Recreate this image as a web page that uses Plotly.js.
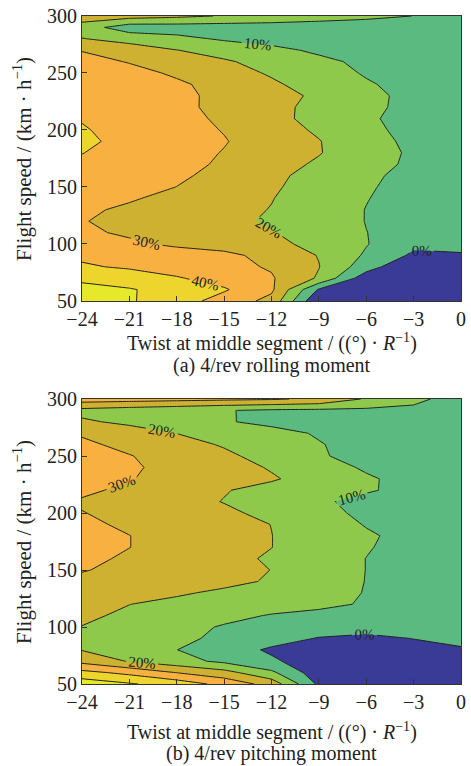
<!DOCTYPE html>
<html>
<head>
<meta charset="utf-8">
<script src="https://cdn.plot.ly/plotly-3.0.1.min.js"></script>
<style>html,body{margin:0;padding:0;background:#fff;}#chart{width:471px;height:766px;}</style>
</head>
<body>
<div id="chart"></div>
<script>
// Twist at middle segment, deg/R
var twist = [-24, -21, -18, -15, -12, -9, -6, -3, 0];
// Flight speed, km/h
var speed = [50, 60, 70, 80, 90, 100, 110, 120, 130, 140, 150, 160, 170, 180, 190, 200, 210, 220, 230, 240, 250, 260, 270, 280, 290, 300];
var tickX = [-24, -21, -18, -15, -12, -9, -6, -3, 0];
var tickXText = ['\u221224', '\u221221', '\u221218', '\u221215', '\u221212', '\u22129', '\u22126', '\u22123', '0'];
var tickY = [50, 100, 150, 200, 250, 300];
var levels = [0, 0.1, 0.2, 0.3, 0.4, 0.5];

// (a) 4/rev rolling moment, reduction ratio (rows follow speed, columns follow twist)
var zRoll = [
  [0.55, 0.51, 0.444, 0.361, 0.27, -0.1, -0.12, -0.12, -0.1],
  [0.53, 0.508, 0.459, 0.41, 0.317, -0.01, -0.08, -0.12, -0.1],
  [0.48, 0.444, 0.408, 0.36, 0.309, 0.188, -0.06, -0.12, -0.1],
  [0.41, 0.389, 0.358, 0.328, 0.291, 0.203, 0.048, -0.1, -0.08],
  [0.385, 0.36, 0.345, 0.328, 0.263, 0.196, 0.087, -0.017, -0.005],
  [0.346, 0.315, 0.283, 0.252, 0.221, 0.176, 0.105, 0.02, 0.015],
  [0.315, 0.287, 0.26, 0.233, 0.205, 0.156, 0.101, 0.068, 0.055],
  [0.304, 0.276, 0.249, 0.221, 0.189, 0.143, 0.098, 0.065, 0.055],
  [0.315, 0.285, 0.256, 0.227, 0.197, 0.147, 0.098, 0.065, 0.055],
  [0.345, 0.309, 0.274, 0.239, 0.203, 0.154, 0.103, 0.066, 0.055],
  [0.37, 0.343, 0.299, 0.255, 0.212, 0.161, 0.109, 0.07, 0.06],
  [0.38, 0.366, 0.317, 0.269, 0.22, 0.169, 0.116, 0.075, 0.06],
  [0.385, 0.365, 0.333, 0.285, 0.237, 0.187, 0.132, 0.084, 0.065],
  [0.402, 0.367, 0.332, 0.296, 0.25, 0.205, 0.141, 0.086, 0.065],
  [0.415, 0.378, 0.341, 0.305, 0.255, 0.204, 0.133, 0.08, 0.06],
  [0.407, 0.37, 0.333, 0.296, 0.242, 0.187, 0.12, 0.075, 0.06],
  [0.395, 0.37, 0.337, 0.281, 0.227, 0.171, 0.112, 0.071, 0.06],
  [0.385, 0.37, 0.323, 0.274, 0.226, 0.174, 0.119, 0.077, 0.06],
  [0.38, 0.366, 0.321, 0.277, 0.233, 0.184, 0.122, 0.077, 0.06],
  [0.38, 0.365, 0.316, 0.265, 0.214, 0.161, 0.109, 0.07, 0.06],
  [0.36, 0.332, 0.285, 0.238, 0.19, 0.139, 0.092, 0.07, 0.06],
  [0.336, 0.294, 0.253, 0.211, 0.166, 0.119, 0.082, 0.065, 0.055],
  [0.295, 0.249, 0.202, 0.162, 0.121, 0.086, 0.07, 0.06, 0.055],
  [0.204, 0.165, 0.126, 0.088, 0.07, 0.06, 0.055, 0.05, 0.05],
  [0.15, 0.045, 0.05, 0.05, 0.05, 0.045, 0.045, 0.05, 0.05],
  [0.26, 0.24, 0.22, 0.194, 0.171, 0.147, 0.123, 0.099, 0.08]
];

// (b) 4/rev pitching moment, reduction ratio
var zPitch = [
  [0.56, 0.51, 0.456, 0.369, 0.26, -0.02, -0.1, -0.08, -0.06],
  [0.43, 0.374, 0.298, 0.236, 0.12, -0.06, -0.1, -0.08, -0.06],
  [0.27, 0.193, 0.137, 0.0785, 0.014, -0.05, -0.07, -0.06, -0.04],
  [0.195, 0.148, 0.101, 0.043, -0.013, -0.04, -0.045, -0.03, -0.008],
  [0.19, 0.16, 0.125, 0.076, 0.036, -0.005, -0.02, 0.002, 0.02],
  [0.198, 0.165, 0.13, 0.092, 0.07, 0.045, 0.035, 0.03, 0.025],
  [0.215, 0.185, 0.155, 0.125, 0.094, 0.08, 0.07, 0.06, 0.055],
  [0.23, 0.201, 0.18, 0.159, 0.138, 0.117, 0.093, 0.065, 0.058],
  [0.26, 0.235, 0.21, 0.186, 0.157, 0.127, 0.097, 0.066, 0.06],
  [0.28, 0.26, 0.24, 0.22, 0.192, 0.145, 0.098, 0.066, 0.06],
  [0.305, 0.278, 0.252, 0.226, 0.199, 0.149, 0.099, 0.066, 0.06],
  [0.32, 0.288, 0.256, 0.224, 0.19, 0.145, 0.099, 0.068, 0.06],
  [0.33, 0.301, 0.267, 0.234, 0.201, 0.154, 0.106, 0.069, 0.06],
  [0.33, 0.301, 0.267, 0.234, 0.201, 0.156, 0.111, 0.073, 0.06],
  [0.316, 0.287, 0.258, 0.229, 0.199, 0.146, 0.095, 0.07, 0.06],
  [0.303, 0.274, 0.245, 0.216, 0.178, 0.126, 0.082, 0.068, 0.06],
  [0.29, 0.26, 0.23, 0.197, 0.155, 0.113, 0.075, 0.065, 0.06],
  [0.318, 0.28, 0.243, 0.205, 0.172, 0.141, 0.109, 0.074, 0.06],
  [0.335, 0.304, 0.272, 0.241, 0.209, 0.163, 0.111, 0.071, 0.06],
  [0.34, 0.312, 0.273, 0.234, 0.193, 0.138, 0.089, 0.065, 0.055],
  [0.33, 0.304, 0.261, 0.218, 0.166, 0.109, 0.07, 0.06, 0.055],
  [0.318, 0.276, 0.234, 0.192, 0.148, 0.105, 0.068, 0.06, 0.055],
  [0.29, 0.246, 0.199, 0.163, 0.127, 0.092, 0.075, 0.065, 0.06],
  [0.215, 0.179, 0.143, 0.107, 0.08, 0.07, 0.065, 0.06, 0.06],
  [0.17, 0.15, 0.13, 0.105, 0.085, 0.08, 0.08, 0.08, 0.07],
  [0.35, 0.34, 0.33, 0.32, 0.31, 0.283, 0.189, 0.122, 0.06]
];

var bandColors = ['#3a3b96', '#5bba80', '#8fc94c', '#cfb132', '#f8b141', '#eed52e', '#e6e82a'];

function stepScale(cols) {
  var n = cols.length - 1, s = [];
  for (var i = 0; i < cols.length; i++) {
    var lo = i === 0 ? 0 : (i - 0.5) / n;
    var hi = i === n ? 1 : (i + 0.5) / n;
    s.push([lo, cols[i]]);
    s.push([hi, cols[i]]);
  }
  return s;
}

var font = 'Liberation Serif, Times New Roman, serif';

function contourTrace(z, xa, ya) {
  return {
    type: 'contour', x: twist, y: speed, z: z, xaxis: xa, yaxis: ya,
    autocontour: false,
    contours: {
      start: levels[0], end: levels[levels.length - 1], size: levels[1] - levels[0],
      coloring: 'fill', showlabels: true, labelformat: '.0%',
      labelfont: {family: font, size: 15, color: '#222'}
    },
    line: {color: '#222', width: 1, smoothing: 0},
    colorscale: stepScale(bandColors),
    showscale: false, hoverinfo: 'skip'
  };
}

function xAxis(anchor) {
  return {
    domain: [0, 1], anchor: anchor, range: [-24, 0], tickvals: tickX, ticktext: tickXText,
    ticks: 'inside', ticklen: 5, tickcolor: '#333', showline: true, linecolor: '#333', linewidth: 1,
    mirror: true, showgrid: false, zeroline: false,
    tickfont: {family: font, size: 20, color: '#222'}
  };
}
function yAxis(dom, anchor) {
  return {
    domain: dom, anchor: anchor, range: [50, 300], tickvals: tickY,
    ticks: 'inside', ticklen: 5, tickcolor: '#333', showline: true, linecolor: '#333', linewidth: 1,
    mirror: true, showgrid: false, zeroline: false,
    tickfont: {family: font, size: 20, color: '#222'}
  };
}

var xTitle = 'Twist at middle segment / ((\u00b0) \u00b7 <i>R</i><sup>\u22121</sup>)';
var yTitle = 'Flight speed / (km \u00b7 h<sup>\u22121</sup>)';

function ann(text, x, y, angle, size) {
  return {text: text, x: x, y: y, xref: 'paper', yref: 'paper', showarrow: false,
    xanchor: 'center', yanchor: 'middle', textangle: angle || 0,
    font: {family: font, size: size, color: '#222'}};
}

var layout = {
  width: 471, height: 766,
  margin: {l: 82, r: 10, t: 16, b: 82},
  paper_bgcolor: '#fff', plot_bgcolor: '#fff',
  showlegend: false,
  xaxis: xAxis('y'),
  yaxis: yAxis([0.5734, 1], 'x'),
  xaxis2: xAxis('y2'),
  yaxis2: yAxis([0, 0.4266], 'x2'),
  annotations: [
    ann(xTitle, 0.5, 0.511, 0, 20),
    ann('(a) 4/rev rolling moment', 0.5, 0.4765, 0, 20),
    ann(yTitle, -0.1557, 0.786, -90, 21),
    ann(xTitle, 0.5, -0.0709, 0, 20),
    ann('(b) 4/rev pitching moment', 0.5, -0.1043, 0, 20),
    ann(yTitle, -0.1557, 0.2126, -90, 21)
  ]
};

Plotly.newPlot('chart', [contourTrace(zRoll, 'x', 'y'), contourTrace(zPitch, 'x2', 'y2')], layout, {displayModeBar: false, staticPlot: true});
</script>
</body>
</html>
